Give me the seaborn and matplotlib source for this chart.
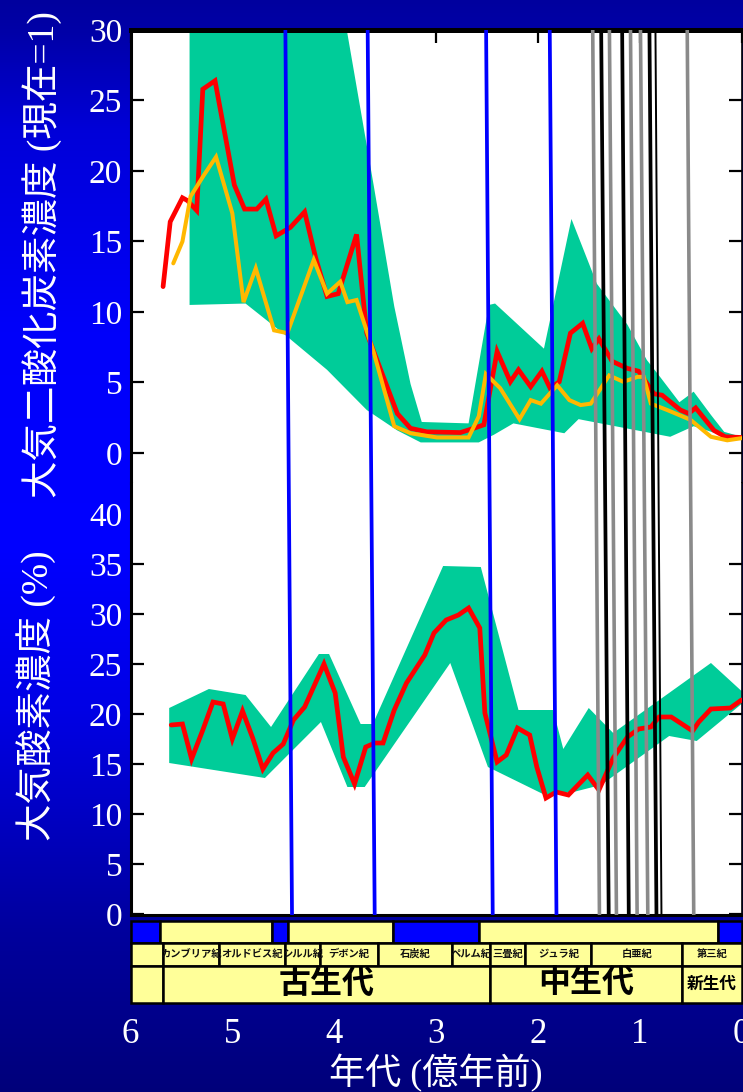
import matplotlib
matplotlib.use("Agg")
import matplotlib.pyplot as plt
from matplotlib.patches import Rectangle
import numpy as np
import seaborn as sns

# ---------------- data ----------------
# Atmospheric CO2 relative to present (present = 1), ages in 100 Myr before present
co2_red_age = [5.68, 5.61, 5.49, 5.44, 5.35, 5.29, 5.17, 4.98, 4.88, 4.76,
               4.67, 4.57, 4.43, 4.29, 4.18, 4.07, 3.96, 3.78, 3.68, 3.53,
               3.38, 3.25, 3.09, 2.76, 2.63, 2.53, 2.40, 2.27, 2.19, 2.07,
               1.96, 1.88, 1.79, 1.68, 1.56, 1.47, 1.40, 1.27, 1.12, 1.01,
               0.86, 0.78, 0.60, 0.52, 0.45, 0.27, 0.16, 0.0]
co2_red = [11.8, 16.4, 18.1, 17.9, 17.2, 25.8, 26.4, 19.0, 17.3, 17.3,
           18.0, 15.4, 16.0, 17.1, 13.8, 11.1, 11.3, 15.5, 8.5, 5.65,
           2.8, 1.75, 1.5, 1.45, 1.75, 2.0, 7.2, 5.05, 5.9, 4.7,
           5.8, 4.6, 5.05, 8.5, 9.2, 7.4, 8.1, 6.5, 6.0, 5.8,
           4.2, 4.1, 3.05, 2.8, 3.2, 1.6, 1.15, 1.1]

co2_orange_age = [5.58, 5.49, 5.41, 5.28, 5.16, 5.00, 4.89, 4.77, 4.59, 4.46,
                  4.20, 4.07, 3.94, 3.87, 3.78, 3.61, 3.41, 3.25, 2.99, 2.68,
                  2.58, 2.51, 2.37, 2.18, 2.07, 1.97, 1.81, 1.69, 1.58, 1.48,
                  1.30, 1.16, 1.02, 0.96, 0.89, 0.73, 0.50, 0.30, 0.14, 0.0]
co2_orange = [13.45, 15.0, 18.2, 19.7, 21.0, 17.0, 10.7, 13.1, 8.7, 8.5,
              13.7, 11.3, 12.15, 10.7, 10.85, 7.1, 1.9, 1.4, 1.1, 1.1,
              2.6, 5.6, 4.6, 2.4, 3.75, 3.5, 4.8, 3.75, 3.4, 3.5,
              5.5, 5.05, 5.4, 5.4, 3.5, 3.05, 2.35, 1.15, 0.9, 1.05]

# uncertainty envelope of CO2
co2_hi_age = [5.42, 3.90, 3.61, 3.41, 3.25, 3.14, 2.68, 2.48, 2.42, 1.94,
              1.67, 1.42, 1.12, 0.93, 0.80, 0.61, 0.47, 0.30, 0.17, 0.0]
co2_hi = [31.0, 31.0, 18.9, 10.4, 4.9, 2.2, 2.1, 10.5, 10.6, 7.4,
          16.6, 12.0, 9.1, 6.6, 5.4, 3.6, 4.35, 2.7, 1.5, 1.15]
co2_lo_age = [5.42, 4.87, 4.46, 4.07, 3.68, 3.38, 3.15, 2.58, 2.43, 2.24,
              1.74, 1.60, 0.70, 0.47, 0.21, 0.0]
co2_lo = [10.5, 10.6, 8.25, 5.9, 3.05, 1.6, 0.75, 0.75, 1.3, 2.1,
          1.4, 2.4, 1.15, 1.9, 1.3, 1.0]

# Atmospheric O2 (%)
o2_age = [5.60, 5.49, 5.40, 5.29, 5.19, 5.09, 5.00, 4.90, 4.80, 4.70,
          4.60, 4.50, 4.40, 4.29, 4.10, 3.99, 3.91, 3.80, 3.69, 3.60,
          3.52, 3.41, 3.29, 3.11, 3.02, 2.90, 2.78, 2.68, 2.57, 2.52,
          2.40, 2.31, 2.20, 2.08, 2.01, 1.92, 1.82, 1.70, 1.51, 1.40,
          1.26, 1.12, 1.01, 0.89, 0.81, 0.69, 0.48, 0.42, 0.30, 0.11, 0.0]
o2 = [18.9, 19.0, 15.5, 18.4, 21.2, 21.0, 17.5, 20.3, 17.6, 14.5,
      16.1, 17.0, 19.4, 20.7, 25.0, 22.1, 15.7, 13.0, 16.7, 17.1,
      17.1, 20.4, 23.1, 25.9, 28.1, 29.4, 29.9, 30.6, 28.6, 20.1,
      15.2, 15.9, 18.6, 17.9, 14.7, 11.6, 12.2, 11.9, 13.9, 12.4,
      15.6, 17.7, 18.5, 18.7, 19.7, 19.7, 18.3, 19.2, 20.5, 20.6, 21.4]

o2_hi_age = [5.62, 5.23, 4.87, 4.62, 4.15, 4.05, 3.74, 3.62, 2.93, 2.56,
             2.19, 1.85, 1.75, 1.50, 1.26, 0.30, 0.0]
o2_hi = [20.6, 22.5, 21.9, 18.7, 26.0, 26.0, 19.0, 19.0, 34.8, 34.7,
         20.4, 20.4, 16.5, 20.6, 18.1, 25.1, 22.3]
o2_lo_age = [5.62, 4.68, 4.13, 3.87, 3.70, 2.86, 2.49, 1.93, 1.65, 1.38,
             0.71, 0.44, 0.0]
o2_lo = [15.1, 13.6, 19.2, 12.7, 12.7, 25.1, 14.7, 11.9, 12.2, 12.9,
         17.8, 17.3, 21.0]

# event lines (age where each line meets the top / bottom of the plot)
mass_ext_top = [4.479, 3.671, 2.508, 1.883]
mass_ext_bottom = [4.414, 3.602, 2.443, 1.817]
gray_evt_top = [1.461, 1.297, 1.090, 0.992, 0.533]
gray_evt_bottom = [1.395, 1.228, 1.025, 0.920, 0.469]
black_evt_top = [1.378, 1.172, 0.904, 0.845]
black_evt_bottom = [1.304, 1.107, 0.835, 0.786]

# geological time scale
climate_edges = [6.0, 5.707, 4.607, 4.450, 3.418, 2.574, 0.226, 0.0]
climate_cold = [True, False, True, False, True, False, True]
period_edges = [6.0, 5.685, 5.128, 4.479, 4.143, 3.569, 2.839, 2.466, 2.122,
                1.473, 0.580, 0.0]
period_names = ["", "カンブリア紀", "オルドビス紀", "シルル紀", "デボン紀", "石炭紀",
                "ペルム紀", "三畳紀", "ジュラ紀", "白亜紀", "第三紀"]
era_edges = [6.0, 5.685, 2.466, 0.580, 0.0]
era_names = ["", "古生代", "中生代", "新生代"]

x_ticks = [0, 1, 2, 3, 4, 5, 6]
co2_ticks = [0, 5, 10, 15, 20, 25, 30]
o2_ticks = [0, 5, 10, 15, 20, 25, 30, 35, 40]

# ---------------- style ----------------
sns.set_theme(style="white")
plt.rcParams["font.family"] = ["Liberation Serif", "Noto Sans CJK JP"]
plt.rcParams["axes.unicode_minus"] = False

GREEN = "#00CC99"
RED = "#FF0000"
ORANGE = "#FFB800"
BLUE = "#0000FF"
YELLOW = "#FFFF99"

W, H = 743, 1092
fig = plt.figure(figsize=(W / 100, H / 100), dpi=100)


def fx(px):
    return px / W


def fy(py):
    return 1 - py / H


# vertical blue gradient background
bg = fig.add_axes([0, 0, 1, 1], zorder=-10)
gy = np.linspace(0, 1, 600)
gb = np.interp(gy, [0.0, 0.03, 0.12, 0.3, 0.5, 0.65, 0.85, 1.0],
               [0.62, 0.66, 0.85, 0.98, 1.0, 0.9, 0.62, 0.48])
grad = np.zeros((600, 1, 3))
grad[:, 0, 2] = gb
bg.imshow(grad, aspect="auto", extent=[0, 1, 0, 1], origin="upper")
bg.axis("off")

left = fx(130.5)
width = fx(741.5) - fx(130.5)
top_px, split_px, bottom_px = 30, 483, 915

ax_co2 = fig.add_axes([left, fy(split_px), width, (split_px - top_px) / H])
ax_o2 = fig.add_axes([left, fy(bottom_px), width, (bottom_px - split_px) / H])

for ax in (ax_co2, ax_o2):
    ax.set_facecolor("white")
    ax.set_xlim(6, 0)
    ax.set_axisbelow(True)
    ax.grid(False)
    for s in ax.spines.values():
        s.set_color("black")
    ax.spines["left"].set_linewidth(2.2)
    ax.spines["right"].set_linewidth(1.2)
    ax.tick_params(axis="y", direction="in", length=9.5, width=1.6,
                   color="black", left=True, right=True, labelleft=True,
                   labelright=False, labelcolor="white", labelsize=24, pad=6)

# ---- CO2 panel ----
ax_co2.set_ylim(-2.128, 30)
ax_co2.spines["bottom"].set_visible(False)
ax_co2.spines["top"].set_linewidth(3.6)
ax_co2.fill(co2_hi_age + co2_lo_age[::-1], co2_hi + co2_lo[::-1],
            color=GREEN, lw=0, zorder=1)
sns.lineplot(x=co2_red_age, y=co2_red, ax=ax_co2, color=RED, linewidth=3.4,
             sort=False, estimator=None, solid_joinstyle="miter", zorder=3)
sns.lineplot(x=co2_orange_age, y=co2_orange, ax=ax_co2, color=ORANGE,
             linewidth=2.9, sort=False, estimator=None,
             solid_joinstyle="miter", zorder=3)
ax_co2.set_yticks(co2_ticks)
ax_co2.set_yticklabels([str(v) for v in co2_ticks])
ax_co2.set_xticks(x_ticks)
ax_co2.tick_params(axis="x", direction="in", top=True, bottom=False,
                   labeltop=False, labelbottom=False, length=9.5, width=1.6,
                   color="black")
ax_co2.set_xlabel("")
ax_co2.set_ylabel("")

# ---- O2 panel ----
ax_o2.set_ylim(-0.1, 43.1)
ax_o2.spines["top"].set_visible(False)
ax_o2.spines["bottom"].set_linewidth(2.2)
ax_o2.fill(o2_hi_age + o2_lo_age[::-1], o2_hi + o2_lo[::-1],
           color=GREEN, lw=0, zorder=1)
sns.lineplot(x=o2_age, y=o2, ax=ax_o2, color=RED, linewidth=3.4,
             sort=False, estimator=None, solid_joinstyle="miter", zorder=3)
ax_o2.set_yticks(o2_ticks)
ax_o2.set_yticklabels([str(v) for v in o2_ticks])
ax_o2.set_xticks([])
ax_o2.set_xlabel("")
ax_o2.set_ylabel("")
top_tick = ax_o2.yaxis.get_major_ticks()[-1]
top_tick.tick1line.set_visible(False)
top_tick.tick2line.set_visible(False)

# ---- event lines across both panels ----
ov = fig.add_axes([left, fy(bottom_px), width, (bottom_px - top_px) / H])
ov.set_xlim(6, 0)
ov.set_ylim(0, 1)
ov.axis("off")
for t, b in zip(mass_ext_top, mass_ext_bottom):
    ov.plot([b, t], [0, 1], color=BLUE, lw=2.7, solid_capstyle="butt")
for t, b in zip(gray_evt_top, gray_evt_bottom):
    ov.plot([b, t], [0, 1], color="#8A8A8A", lw=2.6, solid_capstyle="butt")
for i, (t, b) in enumerate(zip(black_evt_top, black_evt_bottom)):
    ov.plot([b, t], [0, 1], color="black",
            lw=1.4 if i == len(black_evt_top) - 1 else 2.7,
            solid_capstyle="butt")

# ---- geological time strip ----
strip_top, strip_bottom = 920.5, 1003
ax_s = fig.add_axes([left, fy(strip_bottom), width, (strip_bottom - strip_top) / H])
ax_s.set_xlim(6, 0)
ax_s.set_ylim(0, strip_bottom - strip_top)
ax_s.set_facecolor("none")
for s in ax_s.spines.values():
    s.set_visible(False)
ax_s.grid(False)
rows = {"climate": (60.5, 22.0), "period": (37.5, 23.0), "era": (0.0, 37.5)}


def cell(a0, a1, row, color):
    y0, h = rows[row]
    r = Rectangle((min(a0, a1), y0), abs(a0 - a1), h, facecolor=color,
                  edgecolor="black", lw=1.8, clip_on=False)
    ax_s.add_patch(r)
    return r


for i, cold in enumerate(climate_cold):
    cell(climate_edges[i], climate_edges[i + 1], "climate", BLUE if cold else YELLOW)

for i, name in enumerate(period_names):
    a0, a1 = period_edges[i], period_edges[i + 1]
    r = cell(a0, a1, "period", YELLOW)
    if name:
        y0, h = rows["period"]
        t = ax_s.text((a0 + a1) / 2, y0 + h / 2, name, ha="center", va="center",
                      fontsize=7.4, fontweight="bold", color="#111111",
                      family="Noto Sans CJK JP")
        t.set_clip_path(r)

era_sizes = [0, 23, 23, 12]
for i, name in enumerate(era_names):
    a0, a1 = era_edges[i], era_edges[i + 1]
    r = cell(a0, a1, "era", YELLOW)
    if name:
        y0, h = rows["era"]
        ax_s.text((a0 + a1) / 2, y0 + h / 2, name, ha="center", va="center",
                  fontsize=era_sizes[i], fontweight="bold", color="black",
                  family="Noto Sans CJK JP")

ax_s.set_yticks([])
ax_s.set_xticks(x_ticks)
ax_s.set_xticklabels([str(v) for v in x_ticks])
ax_s.tick_params(axis="x", length=0, pad=11, labelsize=25, labelcolor="white",
                 bottom=True)
ax_s.set_xlabel("年代 (億年前)", color="white", fontsize=26, labelpad=2)

# ---- axis titles ----
fig.text(fx(42), fy(255), "大気二酸化炭素濃度 (現在=1)", rotation=90,
         ha="center", va="center", color="white", fontsize=27)
fig.text(fx(36), fy(696), "大気酸素濃度 (%)", rotation=90,
         ha="center", va="center", color="white", fontsize=27)

fig.savefig("out.png", dpi=100, facecolor="#0000C0")
